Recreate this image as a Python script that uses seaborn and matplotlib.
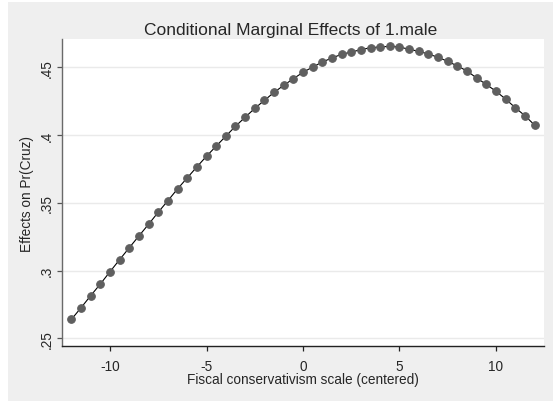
import numpy as np
import pandas as pd
import seaborn as sns
import matplotlib.pyplot as plt
from matplotlib.patches import Rectangle

sns.set_style("white", {'xtick.bottom': True, 'ytick.left': True})
plt.rcParams['font.family'] = ['Liberation Sans', 'DejaVu Sans']
plt.rcParams['xtick.major.size'] = 3.8
plt.rcParams['ytick.major.size'] = 3.8
plt.rcParams['xtick.major.width'] = 0.9
plt.rcParams['ytick.major.width'] = 0.9

# fiscal conservatism scale, steps of 0.5
scale = [-12, -11.5, -11, -10.5, -10, -9.5, -9, -8.5, -8, -7.5, -7, -6.5, -6,
         -5.5, -5, -4.5, -4, -3.5, -3, -2.5, -2, -1.5, -1, -0.5, 0, 0.5, 1,
         1.5, 2, 2.5, 3, 3.5, 4, 4.5, 5, 5.5, 6, 6.5, 7, 7.5, 8, 8.5, 9, 9.5,
         10, 10.5, 11, 11.5, 12]
effects = [.2640, .2726, .2815, .2901, .2992, .3081, .3169, .3256, .3342,
           .3431, .3516, .3603, .3684, .3765, .3844, .3918, .3992, .4065,
           .4131, .4197, .4256, .4315, .4367, .4416, .4463, .4502, .4539,
           .4569, .4596, .4613, .4630, .4645, .4650, .4655, .4650, .4633,
           .4618, .4598, .4574, .4544, .4510, .4473, .4421, .4374, .4323,
           .4266, .4202, .4143, .4074]
xticks = [-10, -5, 0, 5, 10]
yticks = [.25, .3, .35, .4, .45]
ytick_labels = ['.25', '.3', '.35', '.4', '.45']

df = pd.DataFrame({'scale': scale, 'effect': effects})

fig = plt.figure(figsize=(5.53, 4.02), dpi=100, facecolor='white')
# stata-like gray graph region
bg = Rectangle((8 / 553, 0), 1, 1 - 3 / 402, transform=fig.transFigure,
               facecolor='#efefef', edgecolor='none', zorder=-10)
fig.add_artist(bg)
ax = fig.add_axes([62 / 553, 1 - 347 / 402, (544 - 62) / 553, (347 - 40) / 402])
ax.set_zorder(1)
ax.set_facecolor('white')

for y in yticks:
    ax.axhline(y, color='#eaeaea', lw=1, zorder=0)

sns.lineplot(data=df, x='scale', y='effect', ax=ax, color='black', lw=0.8,
             marker='o', markersize=5.5, markerfacecolor='#5f5f5f',
             markeredgecolor='#5f5f5f', zorder=3)

ax.set_xlim(-12.49, 12.49)
ax.set_ylim(.2443, .4709)
ax.set_xticks(xticks)
ax.set_xticklabels([str(t) for t in xticks], fontsize=9.8)
ax.set_yticks(yticks)
ax.set_yticklabels(ytick_labels, fontsize=9.8, rotation=90, va='center')
ax.tick_params(axis='x', which='major', direction='out', length=3.8, width=0.9,
               color='#222222', bottom=True, pad=5.5)
ax.tick_params(axis='y', which='major', direction='out', length=3.8, width=0.9,
               color='#555555', left=True, pad=2.5)

for s in ['top', 'right']:
    ax.spines[s].set_visible(False)
ax.spines['left'].set_color('#6a6a6a')
ax.spines['left'].set_linewidth(1.0)
ax.spines['bottom'].set_color('#222222')
ax.spines['bottom'].set_linewidth(1.0)

ax.set_xlabel('Fiscal conservativism scale (centered)', fontsize=9.8, labelpad=-1)
ax.set_ylabel('Effects on Pr(Cruz)', fontsize=9.8, labelpad=4)
fig.text(291 / 553, 1 - 30 / 402, 'Conditional Marginal Effects of 1.male',
         fontsize=12.5, ha='center', va='center')

fig.savefig('out.png', dpi=100, facecolor=fig.get_facecolor())
